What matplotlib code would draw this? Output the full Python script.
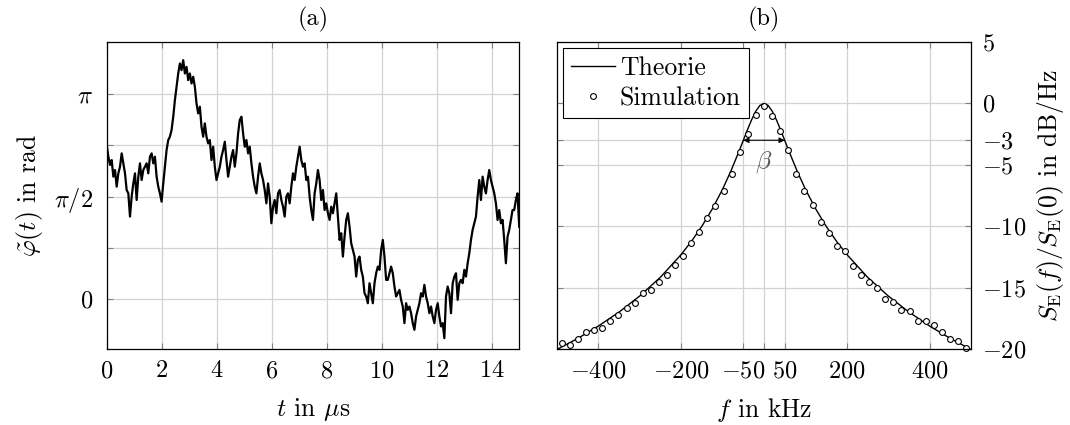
import numpy as np
import matplotlib
matplotlib.use("Agg")
import matplotlib.pyplot as plt

plt.rcParams['mathtext.fontset'] = 'cm'
plt.rcParams['font.family'] = ['cmr10', 'DejaVu Serif']
plt.rcParams['axes.unicode_minus'] = False

# ---------------- data: panel (a) phase random walk ----------------
t_start, t_end = 0.0, 15.0
phi = [
    2.362, 2.184, 2.057, 2.133, 1.878, 1.980, 1.725, 1.929, 2.031, 2.235,
    2.082, 1.929, 1.674, 1.623, 1.267, 1.572, 1.776, 1.929, 1.521, 1.878,
    2.082, 1.827, 1.980, 2.031, 2.082, 1.929, 2.184, 2.235, 2.082, 2.184,
    1.878, 1.725, 1.623, 1.496, 1.776, 2.031, 2.286, 2.439, 2.490, 2.592,
    2.796, 3.050, 3.254, 3.458, 3.611, 3.509, 3.662, 3.458, 3.560, 3.356,
    3.458, 3.305, 3.407, 3.254, 2.999, 2.847, 2.949, 2.643, 2.490, 2.694,
    2.490, 2.388, 2.439, 2.133, 2.337, 2.031, 1.827, 1.929, 2.031, 2.184,
    2.286, 2.413, 2.133, 1.878, 2.031, 2.184, 2.286, 2.031, 2.235, 2.541,
    2.745, 2.796, 2.541, 2.337, 2.439, 2.235, 2.337, 2.082, 1.878, 1.725,
    1.623, 1.878, 2.082, 1.929, 1.827, 1.674, 1.470, 1.776, 1.572, 1.165,
    1.419, 1.521, 1.318, 1.623, 1.674, 1.521, 1.419, 1.267, 1.572, 1.623,
    1.470, 1.725, 1.929, 1.827, 2.031, 2.184, 2.337, 2.133, 2.031, 2.082,
    1.827, 1.878, 1.572, 1.368, 1.216, 1.623, 1.776, 1.980, 1.827, 1.521,
    1.674, 1.368, 1.470, 1.318, 1.216, 1.419, 1.318, 1.470, 1.623, 1.267,
    0.910, 1.012, 0.655, 0.961, 1.216, 1.318, 1.114, 0.859, 0.757, 0.655,
    0.349, 0.604, 0.655, 0.451, 0.349, 0.094, 0.043, -0.059, 0.247, 0.094,
    -0.059, 0.247, 0.400, 0.502, 0.451, 0.757, 0.910, 0.655, 0.298, 0.298,
    0.400, 0.502, 0.400, 0.196, 0.043, 0.094, 0.145, -0.008, -0.110, -0.364,
    -0.059, -0.161, -0.110,
    -0.212, -0.364, -0.466, -0.262, -0.161, -0.059, 0.094, 0.043, 0.222, 0.043,
    -0.059, -0.212, -0.110, -0.262, -0.364, -0.161, -0.059, -0.262, -0.415, -0.364,
    -0.594, 0.043, 0.196, 0.094, -0.212, 0.247, 0.349, 0.400, -0.008, 0.247,
    0.298, 0.247, 0.451, 0.349, 0.553, 0.706, 0.910, 1.063, 1.165, 1.267,
    1.572, 1.827, 1.521, 1.878, 1.725, 1.623, 1.827, 1.980, 1.827, 1.725,
    1.623, 1.470, 1.216, 1.368, 1.165, 1.216, 0.910, 0.553, 0.961, 1.063,
    1.216, 1.368, 1.368, 1.521, 1.623, 1.114,
]
a_xticks = [0, 2, 4, 6, 8, 10, 12, 14]
a_yticks = [0, np.pi / 4, np.pi / 2, 3 * np.pi / 4, np.pi]
a_yticklabels = [r'$0$', '', r'$\pi/2$', '', r'$\pi$']

# ---------------- data: panel (b) spectrum ----------------
f_theory = [-500, -450, -400, -350, -300, -250, -200, -175, -150, -125, -100,
            -80, -60, -50, -40, -30, -20, -10, 0, 10, 20, 30, 40, 50, 60, 80,
            100, 125, 150, 175, 200, 250, 300, 350, 400, 450, 500]
S_theory = [-20.04, -19.14, -18.13, -16.99, -15.68, -14.15, -12.30, -11.22,
            -10.00, -8.60, -6.99, -5.51, -3.87, -3.01, -2.15, -1.34, -0.64,
            -0.17, 0.0, -0.17, -0.64, -1.34, -2.15, -3.01, -3.87, -5.51, -6.99,
            -8.60, -10.00, -11.22, -12.30, -14.15, -15.68, -16.99, -18.13,
            -19.14, -20.04]

f_pos = [19.5, 39.1, 58.6, 78.1, 97.7, 117.2, 136.7, 156.3, 175.8, 195.3,
         214.8, 234.4, 253.9, 273.4, 293.0, 312.5, 332.0, 351.6, 371.1, 390.6,
         410.2, 429.7, 449.2, 468.8, 488.3]
f_sim = [-v for v in f_pos[::-1]] + [0.0] + f_pos
S_sim = [-19.54, -19.70, -19.16, -18.61, -18.42, -18.26, -17.74, -17.20,
         -16.63, -16.25, -15.40, -15.19, -14.54, -13.97, -13.12, -12.39,
         -11.39, -10.51, -9.37, -8.35, -7.12, -5.71, -3.94, -2.48, -0.93,
         -0.19,
         -1.01, -2.26, -3.83, -5.71, -7.12, -8.26, -9.62, -10.57, -11.63,
         -12.06, -13.28, -13.97, -14.56, -15.05, -15.89, -16.17, -16.85,
         -16.90, -17.72, -17.72, -18.04, -18.61, -19.21, -19.35, -19.94]
b_xticks = [-400, -200, -50, 0, 50, 200, 400]
b_xticklabels = [r'$-400$', r'$-200$', r'$-50$', '', r'$50$', r'$200$', r'$400$']
b_yticks = [-20, -15, -10, -5, -3, 0, 5]
b_yticklabels = [r'$-20$', r'$-15$', r'$-10$', r'$-5$', r'$-3$', r'$0$', r'$5$']
beta_f = [-50, 50]
beta_level = -3

# ---------------- figure ----------------
fig = plt.figure(figsize=(10.7, 4.25), dpi=100)
W, H = 1070, 425
def rect(x0, x1, ytop, ybot):
    return [x0 / W, 1 - ybot / H, (x1 - x0) / W, (ybot - ytop) / H]

axA = fig.add_axes(rect(106.7, 519.2, 42, 349))
axB = fig.add_axes(rect(557, 971, 42, 349))

grid_kw = dict(color='#d3d3d3', linewidth=0.9)
fs_tick = 17.5
fs_lab = 18.5

for ax in (axA, axB):
    ax.grid(True, **grid_kw)
    ax.set_axisbelow(True)
    ax.tick_params(direction='in', top=True, right=True, left=True, bottom=True,
                   length=4.5, width=0.8, color='#808080', labelsize=fs_tick)
    for s in ax.spines.values():
        s.set_linewidth(0.9)

# panel (a)
t = np.linspace(t_start, t_end, len(phi))
axA.plot(t, phi, color='black', linewidth=1.6)
axA.set_xlim(0, 15)
axA.set_ylim(-0.76, 3.94)
axA.set_xticks(a_xticks)
axA.set_xticklabels([rf'${v}$' for v in a_xticks])
axA.set_yticks(a_yticks)
axA.set_yticklabels(a_yticklabels)
axA.tick_params(axis='x', pad=8)
axA.tick_params(axis='y', pad=10)
axA.set_xlabel(r'$t$ in $\mu$s', fontsize=fs_lab, labelpad=10)
axA.set_ylabel(r'$\tilde{\varphi}(t)$ in rad', fontsize=fs_lab, labelpad=6)
axA.set_title('(a)', fontsize=fs_tick, pad=12)

# panel (b)
axB.plot(f_theory, S_theory, color='black', linewidth=1.0, label='Theorie')
axB.plot(f_sim, S_sim, linestyle='none', marker='o', markersize=4.2,
         markerfacecolor='white', markeredgecolor='black',
         markeredgewidth=0.8, clip_on=False, label='Simulation')
axB.set_xlim(-500, 500)
axB.set_ylim(-20, 5)
axB.set_xticks(b_xticks)
axB.set_xticklabels(b_xticklabels)
axB.set_yticks(b_yticks)
axB.set_yticklabels(b_yticklabels)
axB.yaxis.tick_right()
axB.tick_params(axis='y', left=True, right=True, labelleft=False,
                labelright=True, pad=8)
axB.tick_params(axis='x', pad=8)
axB.yaxis.set_label_position('right')
axB.set_xlabel(r'$f$ in kHz', fontsize=fs_lab, labelpad=10)
axB.set_ylabel(r'$S_{\mathrm{E}}(f)/S_{\mathrm{E}}(0)$ in dB/Hz',
               fontsize=fs_lab, labelpad=6)
axB.set_title('(b)', fontsize=fs_tick, pad=12)

axB.annotate('', xy=(beta_f[1], beta_level), xytext=(beta_f[0], beta_level),
             arrowprops=dict(arrowstyle='<|-|>', color='black', lw=0.8,
                             mutation_scale=8, shrinkA=0, shrinkB=0))
axB.text(0, beta_level - 1.8, r'$\beta$', color='#555555', fontsize=fs_lab,
         ha='center', va='center')

leg = axB.legend(loc='upper left', fontsize=fs_lab, frameon=True,
                 fancybox=False, framealpha=1, edgecolor='black',
                 borderpad=0.3, handlelength=1.7, handletextpad=0.2,
                 labelspacing=0.25, borderaxespad=0.25)
leg.get_frame().set_linewidth(0.8)

fig.savefig('out.png', dpi=100)
